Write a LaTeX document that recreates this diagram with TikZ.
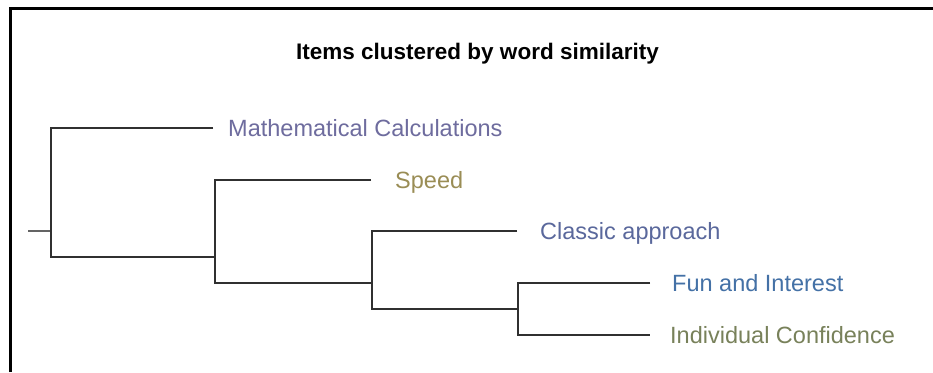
\documentclass[tikz,border=0pt]{standalone}
\usepackage{fontspec}
\setmainfont{Liberation Sans}
\definecolor{cMath}{HTML}{6E6C9E}
\definecolor{cSpeed}{HTML}{9A8D55}
\definecolor{cClassic}{HTML}{5A689C}
\definecolor{cFun}{HTML}{4471A6}
\definecolor{cConf}{HTML}{78815A}
\definecolor{cLine}{HTML}{303030}
\begin{document}
\begin{tikzpicture}[x=1pt,y=-1pt,
  edge/.style={draw=cLine,line width=2.2pt,line join=miter},
  stub/.style={draw=cLine!75,line width=1.4pt},
  frame/.style={draw=black,line width=3pt},
  leaf/.style={anchor=base west,inner sep=0pt,font=\fontsize{23.5}{28}\selectfont},
  ttl/.style={anchor=base,inner sep=0pt,font=\fontsize{22.5}{27}\selectfont\bfseries}]
\useasboundingbox (0,0) rectangle (933,372);
\fill[white] (0,0) rectangle (933,372);
% frame
\coordinate (f0) at (10,372);
\coordinate (f1) at (10,8.5);
\coordinate (f2) at (933,8.5);
\draw[frame] (f0) -- (f1) -- (f2);
% title
\node[ttl] (title) at (477.5,59) {Items clustered by word similarity};
% leaf end points
\coordinate (e1) at (213,128);
\coordinate (e2) at (371,180);
\coordinate (e3) at (517,231);
\coordinate (e4) at (650,283);
\coordinate (e5) at (650,335);
% internal points
\coordinate (a1) at (51,257);
\coordinate (a2) at (215,257);
\coordinate (b1) at (215,283);
\coordinate (b2) at (372,283);
\coordinate (c1) at (372,309);
\coordinate (c2) at (518,309);
\coordinate (d1) at (518,335);
\coordinate (s0) at (28,231);
\coordinate (s1) at (51,231);
% tree
\draw[stub] (s0) -- (s1);
\draw[edge] (e1) -| (a1) -- (a2);
\draw[edge] (e2) -| (b1) -- (b2);
\draw[edge] (e3) -| (c1) -- (c2);
\draw[edge] (e4) -| (d1) -- (e5);
% labels
\node[leaf,text=cMath] (l1) at (228,136.4) {Mathematical Calculations};
\node[leaf,text=cSpeed] (l2) at (395,188.4) {Speed};
\node[leaf,text=cClassic] (l3) at (540,239.4) {Classic approach};
\node[leaf,text=cFun] (l4) at (672,291.4) {Fun and Interest};
\node[leaf,text=cConf] (l5) at (670,343.4) {Individual Confidence};
\end{tikzpicture}
\end{document}
